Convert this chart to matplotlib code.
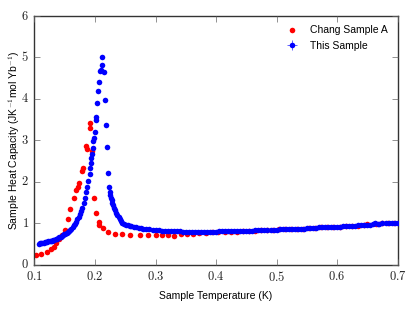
import matplotlib
matplotlib.use('Agg')
import matplotlib.pyplot as plt
from matplotlib.ticker import FuncFormatter

# Chang Sample A (red)
chang_T = [0.103, 0.110, 0.120, 0.128, 0.132, 0.136, 0.140, 0.145, 0.150, 0.155,
           0.159, 0.165, 0.169, 0.172, 0.174, 0.178, 0.180, 0.185, 0.186, 0.191,
           0.192, 0.195, 0.199, 0.202, 0.206, 0.207, 0.213, 0.222, 0.233, 0.244,
           0.257, 0.274, 0.288, 0.300, 0.311, 0.321, 0.331, 0.342, 0.352, 0.362,
           0.372, 0.383, 0.393, 0.404, 0.414, 0.424, 0.434, 0.444, 0.454, 0.464,
           0.474, 0.484, 0.494, 0.504, 0.514, 0.524, 0.534, 0.544, 0.554, 0.564,
           0.574, 0.584, 0.594, 0.604, 0.614, 0.624, 0.634, 0.644, 0.649, 0.664,
           0.674, 0.684, 0.694]
chang_C = [0.24, 0.27, 0.31, 0.37, 0.43, 0.52, 0.61, 0.72, 0.84, 1.10,
           1.34, 1.60, 1.80, 1.87, 1.97, 2.25, 2.33, 2.86, 2.79, 3.31,
           3.42, 2.74, 1.60, 1.24, 1.03, 0.96, 0.88, 0.80, 0.75, 0.73,
           0.72, 0.72, 0.72, 0.71, 0.72, 0.72, 0.69, 0.73, 0.74, 0.75,
           0.76, 0.77, 0.78, 0.79, 0.79, 0.80, 0.80, 0.81, 0.81, 0.82,
           0.83, 0.84, 0.84, 0.85, 0.86, 0.86, 0.87, 0.87, 0.88, 0.89,
           0.90, 0.90, 0.91, 0.92, 0.93, 0.93, 0.94, 0.96, 0.98, 0.98,
           1.00, 1.00, 1.01]

# This sample (blue)
this_T = [0.107, 0.109, 0.111, 0.113, 0.115, 0.117, 0.119, 0.121, 0.123, 0.125,
          0.127, 0.129, 0.131, 0.133, 0.135, 0.137, 0.139, 0.141, 0.143, 0.145,
          0.147, 0.149, 0.151, 0.153, 0.155, 0.157, 0.159, 0.161, 0.163, 0.165,
          0.167, 0.169, 0.171, 0.173, 0.175, 0.177, 0.179, 0.181, 0.183, 0.185,
          0.187, 0.189, 0.191, 0.192, 0.193, 0.194, 0.195, 0.196, 0.197, 0.198,
          0.1995, 0.201, 0.202, 0.2035, 0.205, 0.2065, 0.2085, 0.2095, 0.211, 0.212,
          0.2145, 0.2163, 0.2185, 0.2202, 0.2218, 0.2232, 0.2241, 0.2250, 0.2260, 0.2275,
          0.2285, 0.2296, 0.231, 0.233, 0.235, 0.237, 0.239, 0.241, 0.243, 0.245,
          0.248, 0.251, 0.254, 0.257, 0.260, 0.264, 0.268, 0.272, 0.276, 0.280,
          0.285, 0.290, 0.295, 0.300, 0.305, 0.310, 0.315, 0.320, 0.325, 0.330,
          0.335, 0.340, 0.345, 0.350, 0.355, 0.360, 0.365, 0.370, 0.375, 0.380,
          0.385, 0.390, 0.395, 0.400, 0.405, 0.410, 0.415, 0.420, 0.425, 0.430,
          0.435, 0.440, 0.445, 0.450, 0.455, 0.460, 0.465, 0.470, 0.475, 0.480,
          0.485, 0.490, 0.495, 0.500, 0.505, 0.510, 0.515, 0.520, 0.525, 0.530,
          0.535, 0.540, 0.545, 0.550, 0.555, 0.560, 0.565, 0.570, 0.575, 0.580,
          0.585, 0.590, 0.595, 0.600, 0.605, 0.610, 0.615, 0.620, 0.625, 0.630,
          0.635, 0.640, 0.645, 0.650, 0.655, 0.660, 0.663, 0.667, 0.670, 0.675,
          0.680, 0.685, 0.690, 0.695, 0.700]
this_C = [0.51, 0.52, 0.52, 0.53, 0.53, 0.54, 0.54, 0.55, 0.56, 0.57,
          0.57, 0.58, 0.59, 0.60, 0.62, 0.63, 0.64, 0.66, 0.67, 0.69,
          0.71, 0.73, 0.75, 0.77, 0.79, 0.81, 0.84, 0.87, 0.91, 0.95,
          0.99, 1.04, 1.10, 1.16, 1.22, 1.29, 1.37, 1.48, 1.62, 1.75,
          1.88, 2.03, 2.20, 2.33, 2.45, 2.57, 2.68, 2.82, 2.98, 3.05,
          3.20, 3.50, 3.57, 3.90, 4.19, 4.40, 4.68, 4.70, 5.02, 4.83,
          4.66, 3.98, 3.37, 2.83, 2.22, 1.88, 1.75, 1.68, 1.60, 1.55,
          1.48, 1.44, 1.38, 1.32, 1.25, 1.20, 1.14, 1.10, 1.05, 1.01,
          0.98, 0.96, 0.95, 0.94, 0.93, 0.91, 0.90, 0.89, 0.88, 0.87,
          0.86, 0.85, 0.84, 0.83, 0.83, 0.82, 0.82, 0.82, 0.81, 0.81,
          0.81, 0.81, 0.80, 0.80, 0.80, 0.80, 0.80, 0.80, 0.80, 0.80,
          0.80, 0.80, 0.80, 0.80, 0.81, 0.81, 0.81, 0.81, 0.81, 0.82,
          0.82, 0.82, 0.82, 0.82, 0.82, 0.82, 0.83, 0.83, 0.83, 0.83,
          0.84, 0.84, 0.84, 0.84, 0.85, 0.85, 0.86, 0.86, 0.86, 0.86,
          0.87, 0.87, 0.87, 0.88, 0.88, 0.89, 0.89, 0.90, 0.90, 0.90,
          0.91, 0.91, 0.92, 0.92, 0.92, 0.93, 0.93, 0.93, 0.94, 0.94,
          0.95, 0.95, 0.95, 0.96, 0.96, 0.97, 1.00, 0.99, 0.99, 1.00,
          1.00, 1.01, 1.01, 1.01, 1.01]
this_Terr = 0.001
this_Cerr = 0.02

plt.style.use('classic')
plt.rcParams['mathtext.fontset'] = 'cm'
plt.rcParams['font.family'] = ['Liberation Sans', 'DejaVu Sans']

fig = plt.figure(figsize=(4.15, 3.12), dpi=100)
fig.patch.set_facecolor('white')
ax = fig.add_axes([0.0831, 0.1516, 0.875, 0.7971])

ax.plot(chang_T, chang_C, 'o', color='red', markersize=4.0, markeredgewidth=0,
        label='Chang Sample A', zorder=2)
ax.errorbar(this_T, this_C, xerr=this_Terr, yerr=this_Cerr, fmt='o', color='blue',
            ecolor=(0.3, 0.3, 1.0), elinewidth=0.6, capsize=2, markersize=4.0,
            markeredgewidth=0, label='This Sample', zorder=3)

ax.set_xlim(0.1, 0.7)
ax.set_ylim(0, 6)
ax.set_xticks([0.1, 0.2, 0.3, 0.4, 0.5, 0.6, 0.7])
ax.set_yticks([0, 1, 2, 3, 4, 5, 6])
ax.xaxis.set_major_formatter(FuncFormatter(lambda v, _: '$%.1f$' % v))
ax.yaxis.set_major_formatter(FuncFormatter(lambda v, _: '$%d$' % round(v)))
ax.tick_params(labelsize=9, length=4, color='#666666', labelcolor='#222222')
for s in ax.spines.values():
    s.set_linewidth(1.0)
    s.set_color('#333333')

ax.set_xlabel('Sample Temperature (K)', fontsize=7.5, labelpad=5)
ax.set_ylabel('Sample Heat Capacity (JK$^{-1}$mol Yb$^{-1}$)', fontsize=7.5)
ax.yaxis.set_label_coords(-0.035, 0.5)

ax.legend(loc='upper right', frameon=False, numpoints=1, fontsize=7.5,
          handletextpad=0.8, borderaxespad=0.5)

fig.savefig('out.png', dpi=100, facecolor='white')
